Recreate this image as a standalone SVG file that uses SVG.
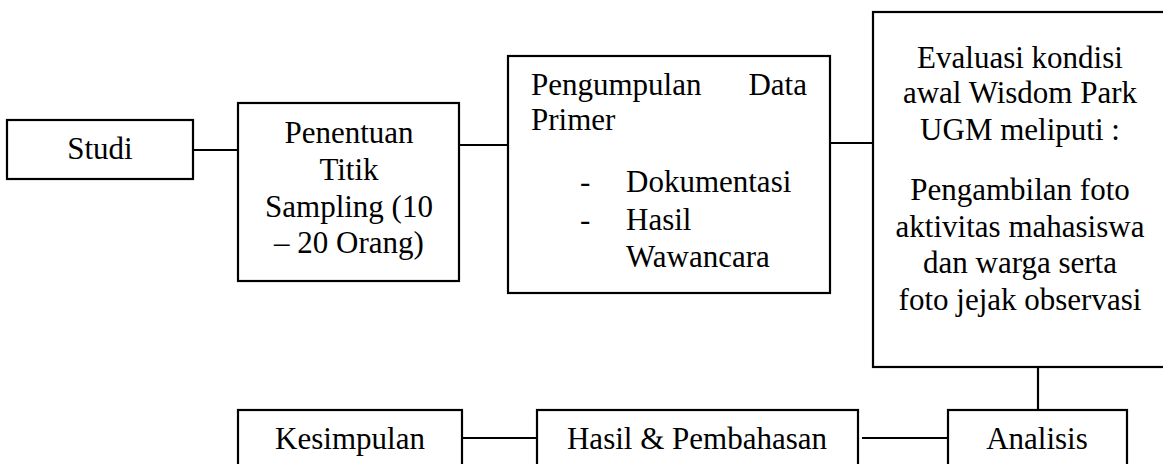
<svg xmlns="http://www.w3.org/2000/svg" width="1163" height="464" viewBox="0 0 1163 464">
<style>
.box{fill:#fff;stroke:#000;stroke-width:2.2}
.con line{stroke:#000;stroke-width:2.2}
text{font-family:"Liberation Serif","Times New Roman",serif;font-size:31px;fill:#000}
.c{text-anchor:middle}
</style>
<rect width="1163" height="464" fill="#fff"/>
<g id="connectors" class="con">
<line x1="193" y1="150" x2="238" y2="150"/>
<line x1="459" y1="145" x2="508" y2="145"/>
<line x1="830" y1="143" x2="873" y2="143"/>
<line x1="1038" y1="367" x2="1038" y2="410"/>
<line x1="862" y1="438" x2="948" y2="438"/>
<line x1="462" y1="438" x2="537" y2="438"/>
</g>
<g id="studi">
<rect class="box" x="7" y="120" width="186" height="59"/>
<text class="c" x="100" y="159">Studi</text>
</g>
<g id="penentuan">
<rect class="box" x="238" y="103" width="221" height="178"/>
<text class="c" x="349" y="143">Penentuan</text>
<text class="c" x="349" y="180">Titik</text>
<text class="c" x="349" y="217">Sampling (10</text>
<text class="c" x="349" y="253">– 20 Orang)</text>
</g>
<g id="pengumpulan">
<rect class="box" x="508" y="56" width="322" height="237"/>
<text x="531" y="95">Pengumpulan</text>
<text x="807" y="95" text-anchor="end">Data</text>
<text x="531" y="130">Primer</text>
<text x="580" y="192">-</text>
<text x="626" y="192">Dokumentasi</text>
<text x="580" y="230">-</text>
<text x="626" y="230">Hasil</text>
<text x="626" y="267">Wawancara</text>
</g>
<g id="evaluasi">
<rect class="box" x="873" y="12" width="300" height="355"/>
<text class="c" x="1020" y="68">Evaluasi kondisi</text>
<text class="c" x="1020" y="103">awal Wisdom Park</text>
<text class="c" x="1020" y="140">UGM meliputi :</text>
<text class="c" x="1020" y="200">Pengambilan foto</text>
<text class="c" x="1020" y="237">aktivitas mahasiswa</text>
<text class="c" x="1020" y="273">dan warga serta</text>
<text class="c" x="1020" y="310">foto jejak observasi</text>
</g>
<g id="analisis">
<rect class="box" x="948" y="410" width="179" height="70"/>
<text class="c" x="1037" y="449">Analisis</text>
</g>
<g id="hasil">
<rect class="box" x="537" y="410" width="321" height="70"/>
<text class="c" x="697" y="449">Hasil &amp; Pembahasan</text>
</g>
<g id="kesimpulan">
<rect class="box" x="238" y="410" width="224" height="70"/>
<text class="c" x="350" y="449">Kesimpulan</text>
</g>
</svg>
